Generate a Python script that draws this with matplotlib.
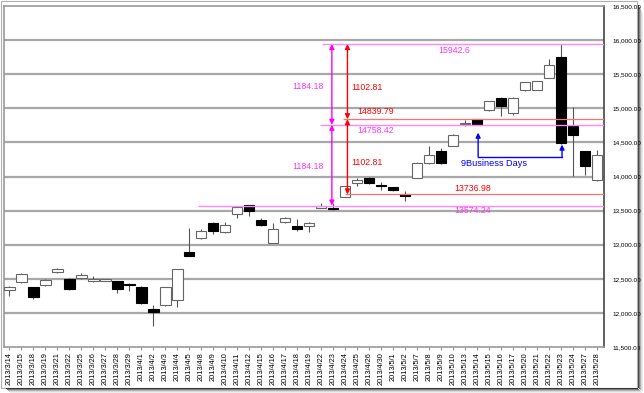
import matplotlib
matplotlib.use("Agg")
import matplotlib.pyplot as plt
from matplotlib.patches import Rectangle

plt.rcParams["font.family"] = ["Liberation Sans", "DejaVu Sans"]

# --- data ---
dates = ["2013/3/14", "2013/3/15", "2013/3/18", "2013/3/19", "2013/3/21", "2013/3/22",
         "2013/3/25", "2013/3/26", "2013/3/27", "2013/3/28", "2013/3/29", "2013/4/1",
         "2013/4/2", "2013/4/3", "2013/4/4", "2013/4/5", "2013/4/8", "2013/4/9",
         "2013/4/10", "2013/4/11", "2013/4/12", "2013/4/15", "2013/4/16", "2013/4/17",
         "2013/4/18", "2013/4/19", "2013/4/22", "2013/4/23", "2013/4/24", "2013/4/25",
         "2013/4/26", "2013/4/30", "2013/5/1", "2013/5/2", "2013/5/7", "2013/5/8",
         "2013/5/9", "2013/5/10", "2013/5/13", "2013/5/14", "2013/5/15", "2013/5/16",
         "2013/5/17", "2013/5/20", "2013/5/21", "2013/5/22", "2013/5/23", "2013/5/24",
         "2013/5/27", "2013/5/28"]
opens = [12343, 12446, 12373, 12411, 12596, 12494, 12509, 12471, 12475, 12469,
         12430, 12382, 12056, 12118, 12187, 12893, 13092, 13323, 13181, 13455,
         13576, 13358, 13031, 13332, 13269, 13273, 13542, 13545, 13703, 13898,
         13981, 13870, 13845, 13747, 13981, 14200, 14370, 14443, 14775, 14839.79,
         14969, 15150, 14930, 15262, 15272, 15443, 15750, 14735, 14370, 13946]
highs = [12395, 12580, 12380, 12490, 12655, 12519, 12592, 12542, 12500, 12475,
         12440, 12390, 12114, 12380, 12650, 13250, 13232, 13330, 13328, 13560,
         13580, 13396, 13313, 13400, 13377, 13330, 13616, 13610, 13862, 13981,
         13996, 13917, 13850, 13785, 14210, 14443, 14420, 14620, 14830, 14850,
         15110, 15160, 15160, 15390, 15400, 15721, 15942.6, 15019, 14375, 14395]
lows = [12250, 12440, 12210, 12400, 12590, 12340, 12490, 12455, 12465, 12285,
        12323, 12135, 11811, 12100, 12080, 12830, 13090, 13154, 13175, 13396,
        13420, 13270, 13020, 13320, 13200, 13191, 13535, 13510, 13700, 13858,
        13883, 13800, 13790, 13640, 13975, 14190, 14190, 14440, 14735, 14758,
        14960, 14892, 14906, 15250, 15265, 15440, 14483, 14004, 14029, 13940]
closes = [12387, 12567, 12227, 12484, 12645, 12348, 12555, 12500, 12493, 12348,
          12413, 12139, 12007, 12373, 12640, 12835, 13203, 13200, 13294, 13551,
          13493, 13285, 13225, 13391, 13225, 13323, 13566, 13529, 13859, 13946,
          13898, 13860, 13800, 13712, 14200, 14310, 14200, 14614, 14790, 14758.42,
          15100, 15038, 15150, 15379, 15393, 15637, 14493, 14614, 14151, 14322]

ytick_values = [11500, 12000, 12500, 13000, 13500, 14000, 14500, 15000, 15500, 16000, 16500]

# levels: (value, start index, colour, label, label x, label y)
pink_levels = [15942.6, 14758.42, 13574.24]
pink_starts = [26.1, 25.9, 15.7]
red_levels = [14839.79, 13736.98]
red_starts = [27.8, 28.0]

pink = "#ff33ff"
pink_line = "#ff88ff"
red = "#ff0000"
red_line = "#ff7070"
blue = "#0000ff"

fig = plt.figure(figsize=(6.44, 3.93), dpi=100)
ax = fig.add_axes([4 / 644, 46 / 393, 600 / 644, 341 / 393])

x = list(range(len(dates)))

# grid
for v in ytick_values[1:-1]:
    ax.axhline(v, color="#a8a8a8", lw=1.6, zorder=1)

# candles
ax.vlines(x, lows, highs, color="#555555", lw=0.8, zorder=2)
body_bottom = [min(o, c) for o, c in zip(opens, closes)]
body_height = [abs(c - o) for o, c in zip(opens, closes)]
face = ["white" if c >= o else "black" for o, c in zip(opens, closes)]
edge = ["#666666" if c >= o else "black" for o, c in zip(opens, closes)]
ax.bar(x, body_height, bottom=body_bottom, width=0.88, color=face,
       edgecolor=edge, linewidth=0.8, zorder=3)

xmax = 49.6
# horizontal levels
for v, s in zip(pink_levels, pink_starts):
    ax.hlines(v, s, xmax, color=pink_line, lw=1.0, zorder=4)
for v, s in zip(red_levels, red_starts):
    ax.hlines(v, s, xmax, color=red_line, lw=0.9, zorder=4)

# level labels
ax.text(35.75, 15842, "15942.6", color=pink, fontsize=6.3, va="center", ha="left")
ax.text(29.0, 14672, "14758.42", color=pink, fontsize=6.3, va="center", ha="left")
ax.text(37.1, 13503, "13574.24", color=pink, fontsize=6.3, va="center", ha="left", zorder=5)
ax.text(29.0, 14955, "14839.79", color=red, fontsize=6.3, va="center", ha="left")
ax.text(37.1, 13820, "13736.98", color=red, fontsize=6.3, va="center", ha="left")

# double arrows
arr_p = dict(arrowstyle="<|-|>", color="#ff00ff", lw=1.0, mutation_scale=7,
             shrinkA=0, shrinkB=0)
arr_r = dict(arrowstyle="<|-|>", color=red, lw=1.0, mutation_scale=7,
             shrinkA=0, shrinkB=0)
ax.annotate("", xy=(26.9, pink_levels[0]), xytext=(26.9, pink_levels[1]), arrowprops=arr_p, zorder=6)
ax.annotate("", xy=(26.9, pink_levels[1]), xytext=(26.9, pink_levels[2]), arrowprops=arr_p, zorder=6)
ax.annotate("", xy=(28.2, pink_levels[0]), xytext=(28.2, red_levels[0]), arrowprops=arr_r, zorder=6)
ax.annotate("", xy=(28.2, red_levels[0]), xytext=(28.2, red_levels[1]), arrowprops=arr_r, zorder=6)
ax.text(26.2, 15316, "1184.18", color=pink, fontsize=6.3, va="center", ha="right")
ax.text(26.2, 14146, "1184.18", color=pink, fontsize=6.3, va="center", ha="right")
ax.text(28.5, 15311, "1102.81", color=red, fontsize=6.3, va="center", ha="left")
ax.text(28.5, 14200, "1102.81", color=red, fontsize=6.3, va="center", ha="left")

# business days bracket
arr_b = dict(arrowstyle="-|>", color=blue, lw=1.0, mutation_scale=7, shrinkA=0, shrinkB=0)
ax.plot([39.1, 46.1], [14292, 14292], color=blue, lw=1.0, zorder=6)
ax.annotate("", xy=(39.1, 14643), xytext=(39.1, 14292), arrowprops=arr_b, zorder=6)
ax.annotate("", xy=(46.1, 14468), xytext=(46.1, 14292), arrowprops=arr_b, zorder=6)
ax.text(40.45, 14190, "9Business Days", color=blue, fontsize=6.6, va="center", ha="center")

# axes
ax.set_xlim(-0.45, xmax)
ax.set_ylim(11500, 16500)
ax.set_xticks(x)
ax.set_xticklabels(dates, rotation=90, fontsize=5.3)
ax.set_yticks(ytick_values)
ax.set_yticklabels([f"{v:,.2f}" for v in ytick_values], fontsize=4.6)
ax.yaxis.tick_right()
ax.tick_params(axis="x", length=2, width=0.6, color="#777777", pad=2)
ax.tick_params(axis="y", length=0, pad=6)
for side in ["left", "bottom", "top"]:
    ax.spines[side].set_color("#999999")
    ax.spines[side].set_linewidth(1.2)
ax.spines["right"].set_color("#444444")
ax.spines["right"].set_linewidth(1.2)

# picture frame with shadow
fig.add_artist(Rectangle((0.5 / 644, 5.5 / 393), 636 / 644, 387 / 393,
                         transform=fig.transFigure, fill=False,
                         edgecolor="#b0b0b0", lw=0.8))
for i, a in enumerate([0.7, 0.5, 0.3, 0.15, 0.07]):
    fig.add_artist(Rectangle(((638 + i) / 644, (5 - i) / 393), 1 / 644, (383 - i) / 393,
                             transform=fig.transFigure, color="black", alpha=a, lw=0))
    fig.add_artist(Rectangle(((6 + i) / 644, (4 - i) / 393), (632) / 644, 1 / 393,
                             transform=fig.transFigure, color="black", alpha=a, lw=0))

plt.savefig("out.png", dpi=100)
